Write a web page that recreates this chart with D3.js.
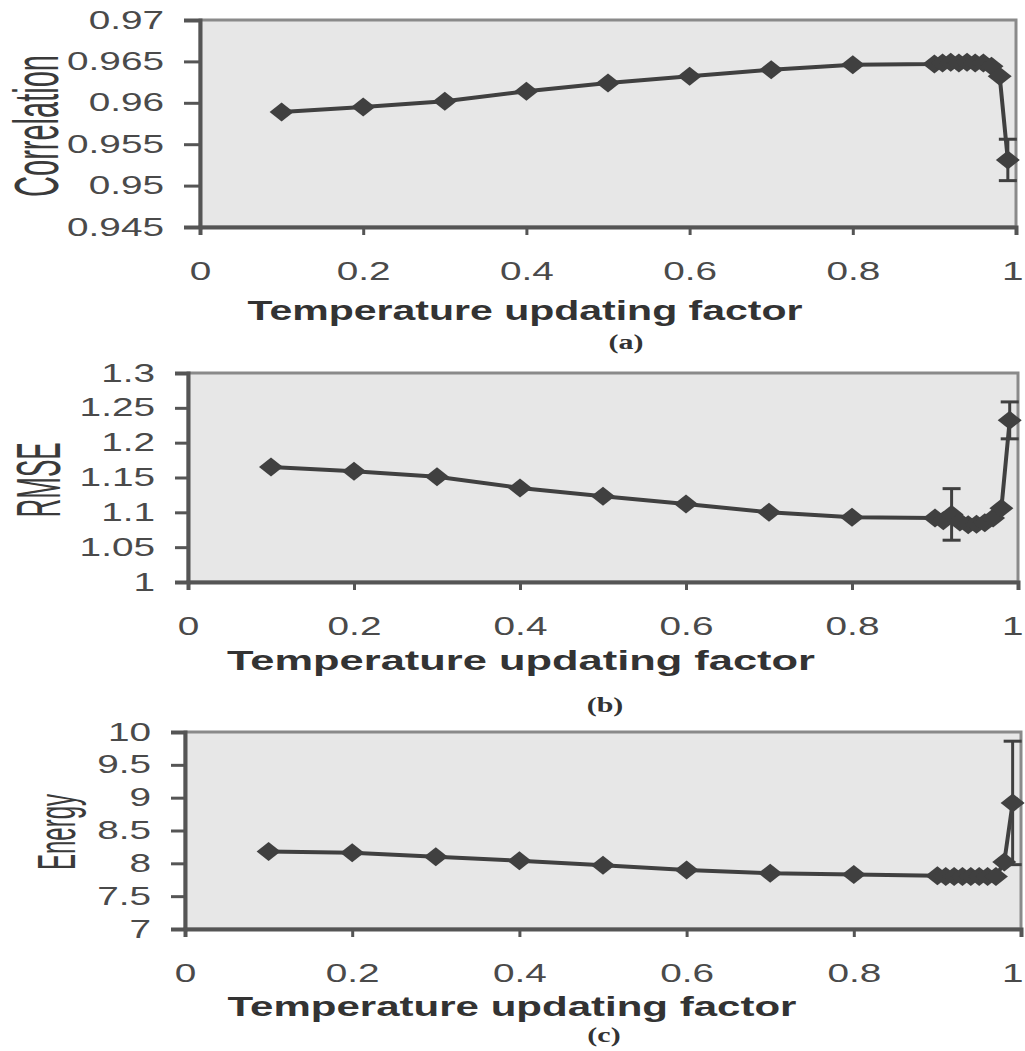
<html>
<head>
<style>
  body { margin: 0; background: #fff; }
  svg { display: block; }
  text { font-family: "Liberation Sans", Arial, sans-serif; }
</style>
</head>
<body>
<div id="chart"></div>
<script src="https://cdn.jsdelivr.net/npm/d3@7/dist/d3.min.js"></script>
<script>
'use strict';

// values
var factor = [0.1, 0.2, 0.3, 0.4, 0.5, 0.6, 0.7, 0.8, 0.9,
              0.91, 0.92, 0.93, 0.94, 0.95, 0.96, 0.97, 0.98, 0.99];

var correlation = [0.9589, 0.9595, 0.9602, 0.9614, 0.9624, 0.9632, 0.9640, 0.9646, 0.9647,
                   0.9648, 0.9649, 0.9648, 0.9649, 0.9648, 0.9648, 0.9644, 0.9632, 0.9531];
var correlationErr = [0, 0, 0, 0, 0, 0, 0, 0, 0, 0, 0, 0, 0, 0, 0, 0, 0, 0.0025];

var rmse = [1.165, 1.159, 1.151, 1.135, 1.123, 1.112, 1.100, 1.093, 1.092,
            1.088, 1.097, 1.086, 1.082, 1.083, 1.085, 1.092, 1.106, 1.232];
var rmseErr = [0, 0, 0, 0, 0, 0, 0, 0, 0, 0, 0.037, 0, 0, 0, 0, 0, 0, 0.0265];

var energy = [8.18, 8.16, 8.10, 8.04, 7.97, 7.90, 7.85, 7.83, 7.81,
              7.80, 7.80, 7.80, 7.80, 7.80, 7.80, 7.80, 8.02, 8.92];
var energyErr = [0, 0, 0, 0, 0, 0, 0, 0, 0, 0, 0, 0, 0, 0, 0, 0, 0, 0.94];

var xTicks = [0, 0.2, 0.4, 0.6, 0.8, 1];
var correlationTicks = [0.945, 0.95, 0.955, 0.96, 0.965, 0.97];
var rmseTicks = [1, 1.05, 1.1, 1.15, 1.2, 1.25, 1.3];
var energyTicks = [7, 7.5, 8, 8.5, 9, 9.5, 10];

var panels = [
  { label: 'Correlation', tag: '(a)', values: correlation, err: correlationErr, ticks: correlationTicks,
    domain: [0.945, 0.97], left: 200, right: 1016, top: 20, bottom: 227, ytick: 16,
    ylab: { x: 58, y: 126, size: 29, sy: 2.14 },
    xlabY: 280, titleY: 320, titleX: 525, titleW: 555, tagX: 626, tagY: 349 },
  { label: 'RMSE', tag: '(b)', values: rmse, err: rmseErr, ticks: rmseTicks,
    domain: [1, 1.3], left: 188, right: 1018, top: 373, bottom: 582, ytick: 13,
    ylab: { x: 60, y: 480, size: 26, sy: 2.4 },
    xlabY: 635, titleY: 670, titleX: 521, titleW: 588, tagX: 605, tagY: 712 },
  { label: 'Energy', tag: '(c)', values: energy, err: energyErr, ticks: energyTicks,
    domain: [7, 10], left: 185, right: 1021, top: 732, bottom: 929, ytick: 14,
    ylab: { x: 75, y: 832, size: 24, sy: 2.2 },
    xlabY: 982, titleY: 1016, titleX: 512, titleW: 569, tagX: 604, tagY: 1042 }
];

var W = 1025, H = 1051;
var ink = '#404040';
var sx = 1.55; // the figure's text is stretched sideways

var svg = d3.select('#chart').append('svg')
  .attr('width', W).attr('height', H);

panels.forEach(function(p) {
  var x = d3.scaleLinear().domain([0, 1]).range([p.left, p.right]);
  var y = d3.scaleLinear().domain(p.domain).range([p.bottom, p.top]);
  var g = svg.append('g');

  // plot area
  g.append('rect')
    .attr('x', p.left).attr('y', p.top)
    .attr('width', p.right - p.left).attr('height', p.bottom - p.top)
    .attr('fill', '#e7e7e7')
    .attr('stroke', '#8a8a8a').attr('stroke-width', 3);

  // y axis
  var ya = g.append('g')
    .attr('transform', 'translate(' + p.left + ',0)')
    .call(d3.axisLeft(y).tickValues(p.ticks).tickSize(p.ytick).tickPadding(20)
      .tickFormat(function(d) { return String(+d.toFixed(4)); }));
  // x axis
  var xa = g.append('g')
    .attr('transform', 'translate(0,' + p.bottom + ')')
    .call(d3.axisBottom(x).tickValues(xTicks).tickSize(8).tickPadding(0)
      .tickFormat(function(d) { return String(+d.toFixed(1)); }));

  [ya, xa].forEach(function(a) {
    a.select('.domain').attr('stroke', '#555').attr('stroke-width', 4);
    a.selectAll('.tick line').attr('stroke', '#555').attr('stroke-width', 3);
    a.selectAll('.tick text')
      .attr('fill', '#4a4a4a')
      .style('font-size', '25px')
      .style('font-family', '"Liberation Sans", Arial, sans-serif');
  });
  ya.selectAll('.tick text').each(function() {
    var t = d3.select(this);
    t.attr('x', +t.attr('x') / sx).attr('transform', 'scale(' + sx + ',1)');
  });
  xa.selectAll('.tick text')
    .attr('y', p.xlabY - p.bottom).attr('dy', 0)
    .attr('transform', 'scale(' + sx + ',1)');
  // keep the "1" label inside the page edge
  xa.selectAll('.tick text').filter(function(d) { return d === 1; })
    .attr('text-anchor', 'end')
    .attr('x', (W - 2 - p.right) / sx);

  // series line
  var line = d3.line()
    .x(function(d, i) { return x(factor[i]); })
    .y(function(d) { return y(d); });
  g.append('path')
    .datum(p.values)
    .attr('d', line)
    .attr('fill', 'none')
    .attr('stroke', ink).attr('stroke-width', 4)
    .attr('stroke-linejoin', 'round');

  // error bars
  var eb = g.append('g').selectAll('g')
    .data(p.values.map(function(v, i) { return { x: factor[i], v: v, e: p.err[i] }; })
      .filter(function(d) { return d.e > 0; }))
    .enter().append('g')
    .attr('stroke', ink).attr('stroke-width', 3);
  eb.append('line')
    .attr('x1', function(d) { return x(d.x); }).attr('x2', function(d) { return x(d.x); })
    .attr('y1', function(d) { return y(d.v + d.e); }).attr('y2', function(d) { return y(d.v - d.e); });
  eb.append('line')
    .attr('x1', function(d) { return x(d.x) - 9; }).attr('x2', function(d) { return x(d.x) + 9; })
    .attr('y1', function(d) { return y(d.v + d.e); }).attr('y2', function(d) { return y(d.v + d.e); });
  eb.append('line')
    .attr('x1', function(d) { return x(d.x) - 9; }).attr('x2', function(d) { return x(d.x) + 9; })
    .attr('y1', function(d) { return y(d.v - d.e); }).attr('y2', function(d) { return y(d.v - d.e); });

  // diamond markers
  g.append('g').selectAll('path')
    .data(p.values)
    .enter().append('path')
    .attr('transform', function(d, i) { return 'translate(' + x(factor[i]) + ',' + y(d) + ')'; })
    .attr('d', 'M-12,0L0,-9.5L12,0L0,9.5Z')
    .attr('fill', ink);

  // y label, condensed
  g.append('text')
    .attr('transform', 'translate(' + p.ylab.x + ',' + p.ylab.y + ') rotate(-90) scale(1,' + p.ylab.sy + ')')
    .attr('text-anchor', 'middle')
    .attr('fill', '#3a3a3a')
    .style('font-size', p.ylab.size + 'px')
    .text(p.label);

  // x title
  g.append('text')
    .attr('x', p.titleX).attr('y', p.titleY)
    .attr('text-anchor', 'middle')
    .attr('textLength', p.titleW).attr('lengthAdjust', 'spacingAndGlyphs')
    .attr('fill', '#333')
    .style('font-size', '28px').style('font-weight', 'bold')
    .text('Temperature updating factor');

  // panel tag
  g.append('text')
    .attr('transform', 'translate(' + p.tagX + ',' + p.tagY + ') scale(1.5,1)')
    .attr('text-anchor', 'middle')
    .attr('fill', '#333')
    .style('font-family', '"Liberation Serif", "DejaVu Serif", serif')
    .style('font-size', '20px').style('font-weight', 'bold')
    .text(p.tag);
});
</script>
</body>
</html>
